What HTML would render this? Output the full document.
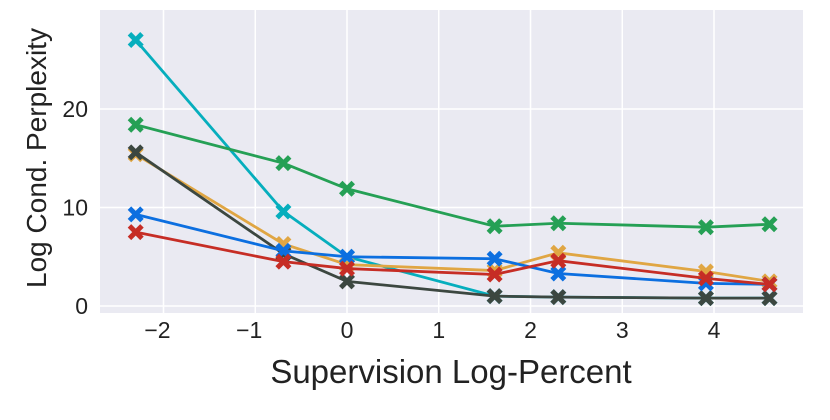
<!DOCTYPE html>
<html><head><meta charset="utf-8"><style>
body{margin:0;background:#fff;width:830px;height:415px;overflow:hidden}
text{font-family:"Liberation Sans",Arial,sans-serif;fill:#222}
</style></head><body>
<svg id="chart" width="830" height="415" xmlns="http://www.w3.org/2000/svg"></svg>
<script>
const xVals=[-2.303,-0.693,0,1.609,2.303,3.912,4.605];
const seriesCyan=[27,9.6,5.0,1.0,0.9,0.8,0.8];
const seriesGreen=[18.4,14.5,11.9,8.1,8.4,8.0,8.3];
const seriesOrange=[15.4,6.3,4.2,3.6,5.4,3.5,2.5];
const seriesBlack=[15.6,5.3,2.5,1.0,0.9,0.8,0.8];
const seriesBlue=[9.3,5.6,5.0,4.8,3.3,2.3,2.2];
const seriesRed=[7.5,4.5,3.8,3.2,4.6,2.8,2.2];
const xTicks=[-2,-1,0,1,2,3,4];
const yTicks=[0,10,20];
const svg=document.getElementById('chart');
const NS='http://www.w3.org/2000/svg';
const L=100,R=803,T=10,B=313;
function sx(v){return 347+v*91.75;}
function sy(v){return 306-v*9.85;}
function mk(tag,attrs,parent){const e=document.createElementNS(NS,tag);for(const k in attrs)e.setAttribute(k,attrs[k]);(parent||svg).appendChild(e);return e;}
const bg=mk('rect',{x:L,y:T,width:R-L,height:B-T,fill:'#eaeaf2'});


xTicks.forEach(t=>{
  const g=mk('line',{x1:sx(t),x2:sx(t),y1:T,y2:B,stroke:'#fff','stroke-width':1.5});
  
  
  const tx=mk('text',{x:sx(t)-(t<0?6:0),y:338,'text-anchor':'middle','font-size':23});
  tx.textContent=(t<0?'\u2212'+(-t):t);
  
  
});
yTicks.forEach(t=>{
  const g=mk('line',{x1:L,x2:R,y1:sy(t),y2:sy(t),stroke:'#fff','stroke-width':1.5});
  
  
  const tx=mk('text',{x:88,y:sy(t)+8,'text-anchor':'end','font-size':23});
  tx.textContent=t;
  
  
});
const xt=mk('text',{x:451,y:383,'text-anchor':'middle','font-size':33});
xt.textContent='Supervision Log-Percent';


const yt=mk('text',{x:0,y:0,'text-anchor':'middle','font-size':28,transform:'translate(46,158) rotate(-90)'});
yt.textContent='Log Cond. Perplexity';


const series=[['cyan',seriesCyan,'#06aebd'],['green',seriesGreen,'#25a055'],['orange',seriesOrange,'#e0a643'],['black',seriesBlack,'#3c4740'],['blue',seriesBlue,'#0c6fe0'],['red',seriesRed,'#c62d25']];
function cross(x,y){const a=8,b=3.5;return `M${x-a},${y-a+b}L${x-b},${y}L${x-a},${y+a-b}L${x-a+b},${y+a}L${x},${y+b}L${x+a-b},${y+a}L${x+a},${y+a-b}L${x+b},${y}L${x+a},${y-a+b}L${x+a-b},${y-a}L${x},${y-b}L${x-a+b},${y-a}Z`;}
series.forEach(([name,vals,col])=>{
  const g=mk('g',{});
  
  
  const pts=vals.map((v,i)=>sx(xVals[i])+','+sy(v)).join(' ');
  const pl=mk('polyline',{points:pts,fill:'none',stroke:col,'stroke-width':2.8},g);
  
  
  vals.forEach((v,i)=>{
    const p=mk('path',{d:cross(sx(xVals[i]),sy(v)),fill:col},g);
    
    
  });
});
</script>
</body></html>
